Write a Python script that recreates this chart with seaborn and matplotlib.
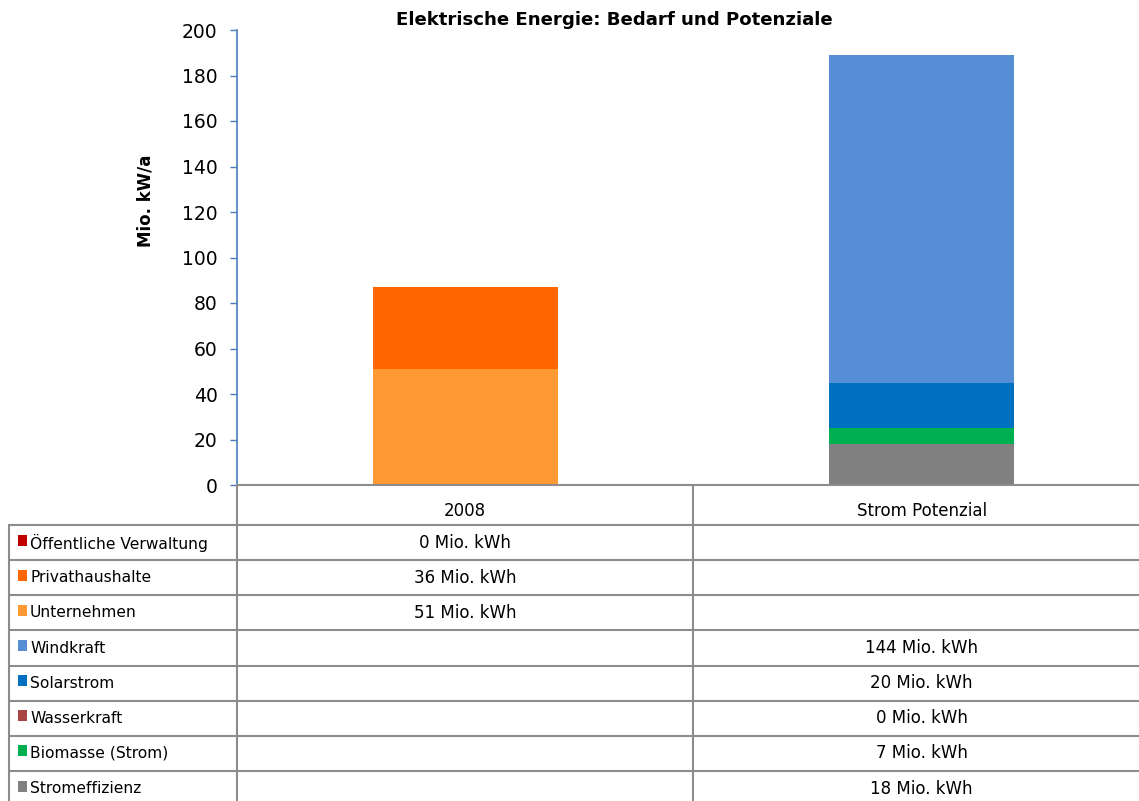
import numpy as np
import pandas as pd
import matplotlib.pyplot as plt
from matplotlib.lines import Line2D
from matplotlib.patches import Rectangle
import matplotlib.transforms as mtransforms
import seaborn as sns

sns.set_style("white")
plt.rcParams['font.family'] = ['DejaVu Sans']
plt.rcParams['text.color'] = 'black'
plt.rcParams['xtick.color'] = 'black'
plt.rcParams['ytick.color'] = 'black'

# Daten (Mio. kWh), None = keine Angabe in der Tabelle
categories = ["2008", "Strom Potenzial"]
series = ["Öffentliche Verwaltung", "Privathaushalte", "Unternehmen", "Windkraft",
          "Solarstrom", "Wasserkraft", "Biomasse (Strom)", "Stromeffizienz"]
oeffentlich = [0, None]
privathaushalte = [36, None]
unternehmen = [51, None]
windkraft = [None, 144]
solarstrom = [None, 20]
wasserkraft = [None, 0]
biomasse = [None, 7]
stromeffizienz = [None, 18]
farben = ["#C00000", "#FF6600", "#FF9933", "#558ED5",
          "#0070C0", "#A94442", "#00B050", "#808080"]
y_ticks = list(range(0, 201, 20))

werte = [oeffentlich, privathaushalte, unternehmen, windkraft,
         solarstrom, wasserkraft, biomasse, stromeffizienz]

df = pd.DataFrame({"Kategorie": categories})
for name, w in zip(series, werte):
    df[name] = [np.nan if v is None else v for v in w]

# Stapel von unten (letzte Zeile) nach oben (erste Zeile)
kum = df[series[::-1]].fillna(0).cumsum(axis=1)[series]

W, H = 1139, 801
fig = plt.figure(figsize=(W / 100, H / 100), dpi=100)
ax = fig.add_axes([237 / W, 1 - 485 / H, (1150 - 237) / W, 455 / H])

# jeweils kumulierte Summen zeichnen, oberste Schicht zuerst
for name, farbe in zip(series, farben):
    sub = pd.DataFrame({"Kategorie": df["Kategorie"], "h": kum[name]})
    sub = sub[df[name].fillna(0) > 0]
    if len(sub) == 0:
        continue
    sns.barplot(data=sub, x="Kategorie", y="h", order=categories, color=farbe,
                saturation=1, width=0.405, errorbar=None, linewidth=0,
                edgecolor="none", ax=ax)

ax.set_xlim(-0.5, 1.5)
ax.set_ylim(0, 200)
ax.set_yticks(y_ticks)
ax.set_xlabel("")
ax.set_ylabel("")
ax.tick_params(axis="y", direction="out", length=5, width=1, color="#4A7EBB",
               labelsize=13.5, pad=9, left=True)
ax.tick_params(axis="x", length=0, labelsize=12, pad=12)
for s in ["top", "right"]:
    ax.spines[s].set_visible(False)
ax.spines["left"].set_color("#4A7EBB")
ax.spines["left"].set_linewidth(1.2)
ax.spines["bottom"].set_color("#8C8C8C")
ax.spines["bottom"].set_linewidth(1.5)

fig.text(614 / W, 1 - 20 / H, "Elektrische Energie: Bedarf und Potenziale",
         ha="center", va="center", fontsize=13.1, fontweight="bold")
fig.text(145 / W, 1 - 201 / H, "Mio. kW/a", rotation=90, ha="center",
         va="center", fontsize=12, fontweight="bold")

# Datentabelle unter dem Diagramm
gc = "#8C8C8C"
oben, zeile = 525, 35.15
def px(x, y):
    return x / W, 1 - y / H

def linie(x0, y0, x1, y1):
    (a, b), (c, d) = px(x0, y0), px(x1, y1)
    fig.add_artist(Line2D([a, c], [b, d], color=gc, lw=1.5))

for i in range(len(series)):
    linie(9, oben + i * zeile, W, oben + i * zeile)
linie(9, oben, 9, H)
linie(237, 485, 237, H)
linie(693, 485, 693, H)

mix = mtransforms.blended_transform_factory(ax.transData, fig.transFigure)
for i, (name, farbe) in enumerate(zip(series, farben)):
    yc = oben + (i + 0.5) * zeile
    fig.add_artist(Rectangle(px(18, yc + 3), 9 / W, 11 / H, transform=fig.transFigure,
                             facecolor=farbe, edgecolor="none"))
    fig.text(30 / W, 1 - yc / H, name, ha="left", va="center", fontsize=11.2)
    for j, v in enumerate(df[name]):
        if pd.notna(v):
            fig.text(j, 1 - yc / H, f"{v:g} Mio. kWh", ha="center", va="center",
                     fontsize=12, transform=mix)

fig.savefig("out.png", dpi=100)
